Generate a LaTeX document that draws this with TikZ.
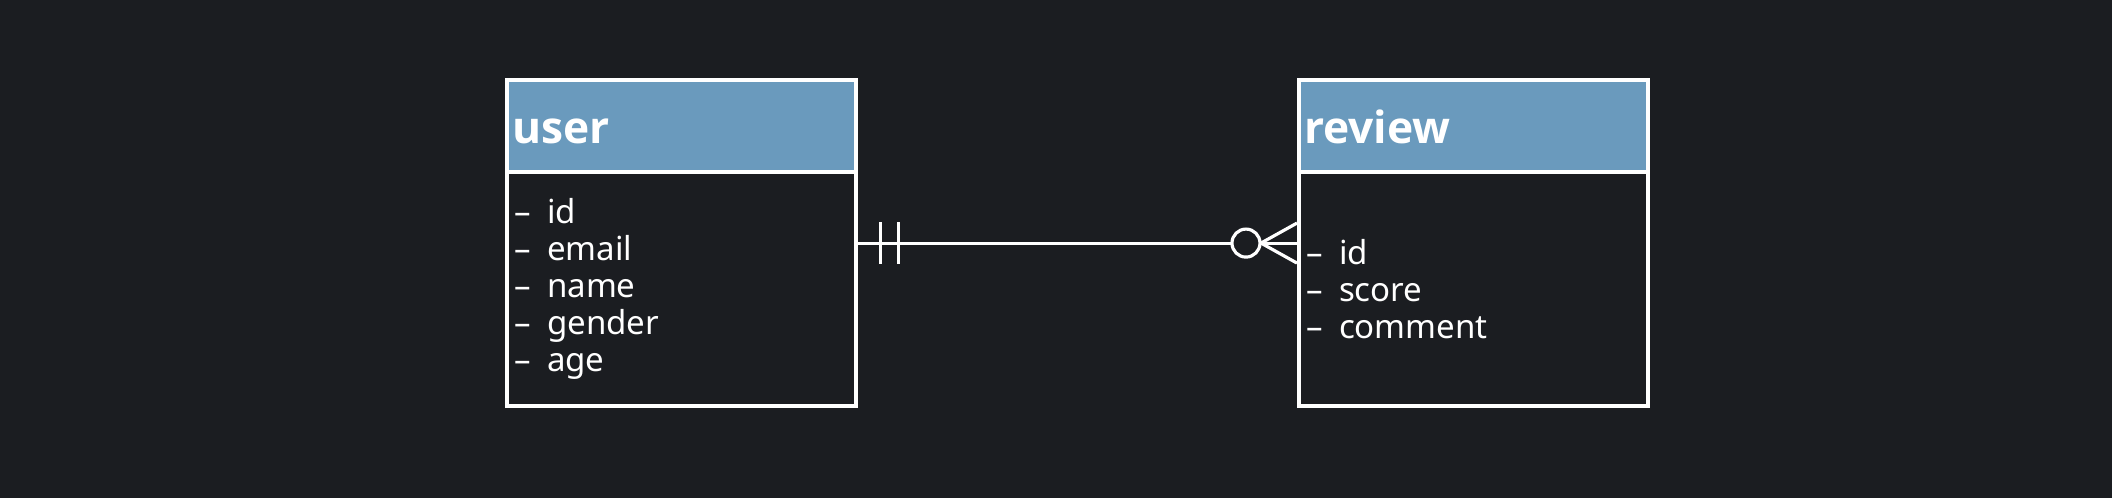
\documentclass[tikz,border=0pt]{standalone}
\usepackage{fontspec}
\setmainfont{Noto Sans}
\newfontfamily\headfont{Open Sans}
\usetikzlibrary{positioning}
\definecolor{bgdark}{HTML}{1B1D21}
\definecolor{headblue}{HTML}{6A9ABD}
\tikzset{
  headbox/.style={draw=white, line width=1.15pt, fill=headblue, text=white,
    minimum width=3.49cm, minimum height=0.92cm, text width=3.39cm,
    text height=0.34cm, text depth=0cm,
    inner xsep=0.05cm, align=left, anchor=north west,
    font=\headfont\bfseries\fontsize{12.6}{15}\selectfont},
  bodybox/.style={draw=white, line width=1.15pt, text=white,
    minimum width=3.49cm, minimum height=2.34cm, text width=3.35cm,
    inner xsep=0.07cm, align=left,
    font=\fontsize{9.4}{10.55}\selectfont},
  conn/.style={white, line width=0.9pt}
}
\newcommand{\attr}[1]{\textendash\enspace #1}

\begin{document}
\begin{tikzpicture}[x=0.01cm, y=-0.01cm]
  % Background
  \useasboundingbox (0,0) rectangle (2112,498);
  \fill[bgdark] (0,0) rectangle (2112,498);

  % Entity: user
  \node[headbox] (uhead) at (505,78) {user};
  \node[bodybox, below=-1.15pt of uhead] (ubody)
    {\attr{id}\\ \attr{email}\\ \attr{name}\\ \attr{gender}\\ \attr{age}};

  % Entity: review
  \node[headbox] (rhead) at (1297,78) {review};
  \node[bodybox, below=-1.15pt of rhead] (rbody)
    {\attr{id}\\ \attr{score}\\ \attr{comment}};

  % Relation: one and only one -- zero or many
  \coordinate (a) at ([yshift=-0.73cm]ubody.north east);
  \coordinate (b) at ([yshift=-0.73cm]rbody.north west);
  \draw[conn] (a) -- (b);

  % Mandatory one
  \draw[conn] ([xshift=0.22cm]a) ++(0,-21) -- ++(0,42);
  \draw[conn] ([xshift=0.40cm]a) ++(0,-21) -- ++(0,42);

  % Optional many
  \draw[conn] ([xshift=-0.36cm]b) -- ++(36,-20);
  \draw[conn] ([xshift=-0.36cm]b) -- ++(36,20);
  \filldraw[conn, fill=bgdark] ([xshift=-0.51cm]b) circle (0.14cm);
\end{tikzpicture}
\end{document}
